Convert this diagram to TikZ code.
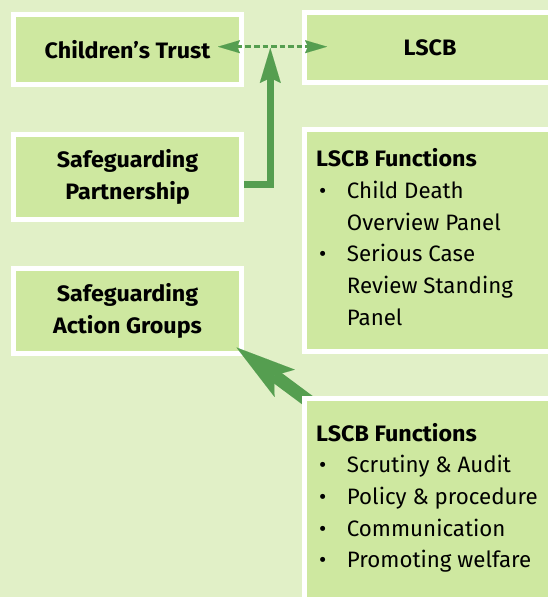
\documentclass[tikz,border=0pt]{standalone}
\usepackage{fontspec}
\setmainfont{Fira Sans}[BoldFeatures={FakeStretch=1.045}]
\usetikzlibrary{arrows.meta}
\definecolor{bg}{HTML}{E1F0C7}
\definecolor{boxfill}{HTML}{CEE8A0}
\definecolor{arrowgreen}{HTML}{559E50}
\newcommand{\lsbul}{\makebox[30.7pt][l]{\hspace{3pt}\textbullet}}
\newcommand{\lsind}{\hspace*{30.7pt}}
\begin{document}
\begin{tikzpicture}[x=1pt,y=-1pt,
  box/.style={draw=white, line width=5pt, fill=boxfill, outer sep=2.5pt, inner sep=0pt,
    font=\fontsize{22.3}{31.7}\selectfont\bfseries, align=center},
  listtext/.style={anchor=base west, inner sep=0pt, font=\fontsize{22.3}{31.7}\selectfont},
  conn/.style={arrowgreen}]
\fill[bg] (0,0) rectangle (548,597);
\useasboundingbox (0,0) rectangle (548,597);

\node[box, minimum width=228pt, minimum height=70pt] (CT) at (127.5,49.5) {Children’s Trust};
\node[box, minimum width=251pt, minimum height=70pt] (LSCB) at (430,47.5) {LSCB};
\node[box, minimum width=228pt, minimum height=85pt] (SP) at (127.5,177) {Safeguarding\\Partnership};
\node[box, minimum width=251pt, minimum height=222pt] (LF1) at (430,240.5) {};
\node[box, minimum width=228pt, minimum height=85pt] (SAG) at (127.5,311) {Safeguarding\\Action Groups};

\node[listtext] (LF1t) at (316,166.7) {\begin{tabular}[t]{@{}l@{}}
\textbf{LSCB Functions}\\
\lsbul Child Death\\
\lsind Overview Panel\\
\lsbul Serious Case\\
\lsind Review Standing\\
\lsind Panel
\end{tabular}};

\draw[conn, line width=3pt, dash pattern=on 5.5pt off 3pt,
  {Stealth[length=22pt,width=13pt,inset=3pt,line width=0.01pt]}-{Stealth[length=22pt,width=13pt,inset=3pt,line width=0.01pt]}]
  ([xshift=-26pt,yshift=2.8pt]CT.east) -- ([xshift=25pt,yshift=0.8pt]LSCB.west);

\coordinate (vt) at (270.3,48);
\draw[conn, line width=7.5pt, -{Stealth[length=35pt,width=21pt,inset=5pt,line width=0.01pt]}]
  ([yshift=-7.5pt]SP.east) -| (vt);

\coordinate (ds) at (322,411);
\draw[conn, line width=13pt, -{Stealth[length=60pt,width=34pt,inset=13pt,line width=0.01pt]}]
  (ds) -- ([xshift=-7.5pt,yshift=8.5pt]SAG.south east);

\node[box, minimum width=251pt, minimum height=211pt] (LF2) at (430,504) {};
\node[listtext] (LF2t) at (316,441) {\begin{tabular}[t]{@{}l@{}}
\textbf{LSCB Functions}\\
\lsbul Scrutiny \& Audit\\
\lsbul Policy \& procedure\\
\lsbul Communication\\
\lsbul Promoting welfare
\end{tabular}};
\end{tikzpicture}
\end{document}
